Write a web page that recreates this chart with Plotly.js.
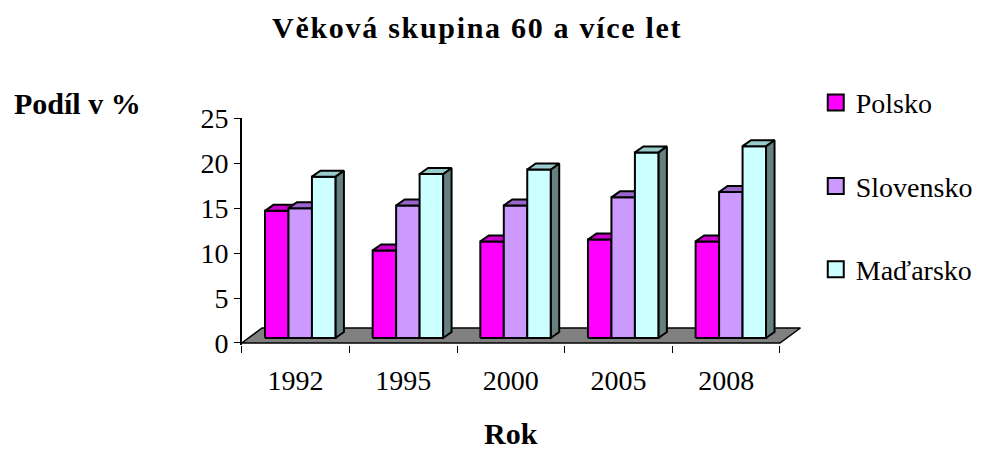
<!DOCTYPE html>
<html>
<head>
<meta charset="utf-8">
<script src="https://cdn.plot.ly/plotly-3.0.1.min.js"></script>
<style>
html,body{margin:0;padding:0;background:#fff;}
#chart{width:990px;height:450px;}
.gtitle{letter-spacing:1.7px;}
</style>
</head>
<body>
<div id="chart"></div>
<script>
// ---- data ----
const years = ['1992', '1995', '2000', '2005', '2008'];
const seriesNames = ['Polsko', 'Slovensko', 'Maďarsko'];
const polsko = [14.7, 10.3, 11.3, 11.5, 11.3];
const slovensko = [15.0, 15.3, 15.3, 16.2, 16.8];
const madarsko = [18.5, 18.8, 19.3, 21.2, 21.9];
const yTicks = [0, 5, 10, 15, 20, 25];

// ---- styles / geometry of the pseudo-3D look ----
const frontColors = ['#FF00FF', '#CC99FF', '#CCFFFF'];
const topColors = ['#CC00CC', '#9966CC', '#99CCCC'];
const sideColors = ['#800080', '#664C80', '#668080'];
const G = {base: 0.55, off: 0.2165, w: 0.218, dx: 0.079, dy: 0.667, fdx: 0.19, fdy: 1.67};
const FONT = 'Liberation Serif';

function poly(list) {
  const xs = [], ys = [];
  list.forEach(p => {
    p.forEach(pt => { xs.push(pt[0]); ys.push(pt[1]); });
    xs.push(p[0][0]); ys.push(p[0][1]);
    xs.push(null); ys.push(null);
  });
  return {xs, ys};
}
function faceTrace(list, color) {
  const p = poly(list);
  return {type: 'scatter', mode: 'lines', x: p.xs, y: p.ys, fill: 'toself', fillcolor: color,
    line: {color: '#000', width: 2}, showlegend: false, hoverinfo: 'skip', connectgaps: false};
}

const allSeries = [polsko, slovensko, madarsko];
const traces = [];

// floor
traces.push(faceTrace([[[0, 0], [years.length, 0], [years.length + G.fdx, G.fdy], [G.fdx, G.fdy]]], '#808080'));
traces[0].line = {color: '#000', width: 1.5};

allSeries.forEach((vals, k) => {
  const fronts = [], tops = [], sides = [];
  vals.forEach((v, i) => {
    const x0 = i + G.off + k * G.w, x1 = x0 + G.w;
    fronts.push([[x0, G.base], [x1, G.base], [x1, v], [x0, v]]);
    tops.push([[x0, v], [x1, v], [x1 + G.dx, v + G.dy], [x0 + G.dx, v + G.dy]]);
    sides.push([[x1, G.base], [x1 + G.dx, G.base + G.dy], [x1 + G.dx, v + G.dy], [x1, v]]);
  });
  if (k === allSeries.length - 1) traces.push(faceTrace(sides, sideColors[k]));
  traces.push(faceTrace(fronts, frontColors[k]));
  traces.push(faceTrace(tops, topColors[k]));
});

// legend entries (placed on the labelled category axis so that it is drawn)
seriesNames.forEach((n, k) => {
  traces.push({type: 'scatter', mode: 'markers', x: [null], y: [null], xaxis: 'x2', name: n, legendgroup: n,
    marker: {symbol: 'square', size: 17, color: frontColors[k], line: {color: '#000', width: 2}},
    hoverinfo: 'skip'});
});

const xr = [0, years.length + 0.2];
const layout = {
  width: 990, height: 450,
  margin: {l: 0, r: 0, t: 0, b: 0},
  paper_bgcolor: '#fff', plot_bgcolor: 'rgba(0,0,0,0)',
  showlegend: true,
  title: {text: 'Věková skupina 60 a více let', x: 0.482, xanchor: 'center', y: 0.94, yanchor: 'middle',
    xref: 'paper', yref: 'paper',
    font: {family: FONT, size: 30, color: '#000', weight: 'bold'}},
  xaxis: {domain: [0.24414, 0.8096], range: xr, tickvals: years.map((y, i) => i).concat([years.length]),
    ticks: 'outside', ticklen: 7, tickwidth: 1, tickcolor: '#000', showticklabels: false,
    showgrid: false, zeroline: false, showline: false, fixedrange: true},
  xaxis2: {domain: [0.24414, 0.8096], range: xr, overlaying: 'x', anchor: 'y', side: 'bottom',
    tickvals: years.map((y, i) => i + 0.5), ticktext: years, ticks: '', ticklabelstandoff: 16,
    showgrid: false, zeroline: false, showline: false,
    tickfont: {family: FONT, size: 28, color: '#000'}, fixedrange: true},
  yaxis: {domain: [0.2338, 0.7372], range: [-0.2, 25], tickvals: yTicks, ticks: 'outside', ticklen: 6,
    tickcolor: '#000', tickwidth: 1, showline: true, linecolor: '#000', linewidth: 1.5, showgrid: false,
    zeroline: false, tickfont: {family: FONT, size: 28, color: '#000'}, fixedrange: true},
  legend: {x: 0.824, xanchor: 'left', y: 0.827, yanchor: 'top', bgcolor: 'rgba(0,0,0,0)',
    font: {family: FONT, size: 28, color: '#000'}, tracegroupgap: 44, itemclick: false},
  annotations: [
    {text: '<b>Podíl v %</b>', xref: 'paper', yref: 'paper', x: 12 / 990, y: 1 - 103 / 450,
      xanchor: 'left', yanchor: 'middle', showarrow: false, font: {family: FONT, size: 30, color: '#000'}},
    {text: '<b>Rok</b>', xref: 'paper', yref: 'paper', x: 511 / 990, y: 1 - 433 / 450,
      xanchor: 'center', yanchor: 'middle', showarrow: false, font: {family: FONT, size: 30, color: '#000'}}
  ]
};

Plotly.newPlot('chart', traces, layout, {displayModeBar: false, staticPlot: true});
</script>
</body>
</html>
